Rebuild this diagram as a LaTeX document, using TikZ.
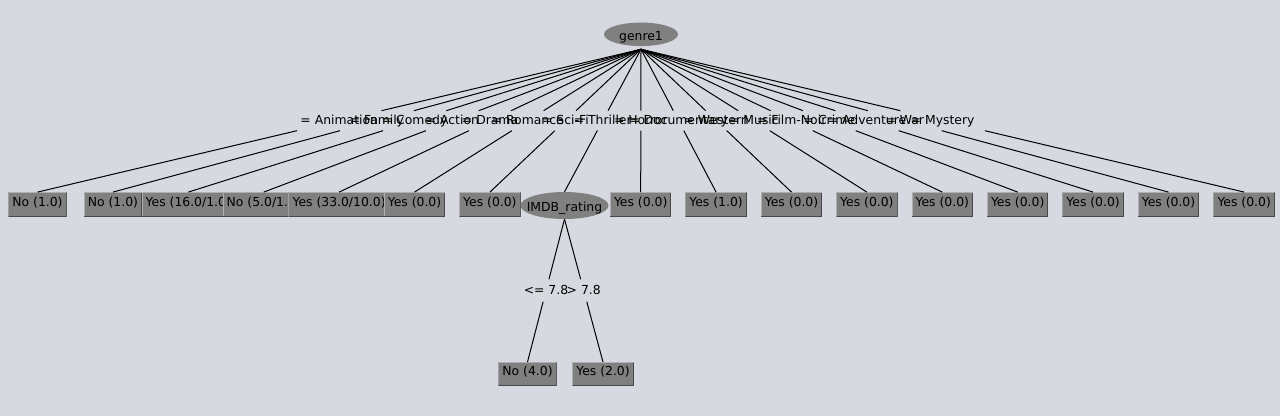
\documentclass[tikz,border=0pt]{standalone}
\usepackage{fontspec}
\setmainfont{DejaVu Sans}
\usetikzlibrary{calc,shapes.geometric}
\definecolor{bg}{RGB}{214,217,223}
\definecolor{nodegray}{RGB}{128,128,128}
\definecolor{boxlight}{RGB}{176,176,176}
\definecolor{boxdark}{RGB}{72,72,72}
\begin{document}
\begin{tikzpicture}[x=1pt,y=-1pt,
  every node/.style={font=\fontsize{12.4pt}{14pt}\selectfont},
  leafbox/.style={fill=nodegray, inner xsep=4.1pt, inner ysep=0pt,
    minimum height=24.4pt, text height=9pt, text depth=6pt,
    path picture={
      \draw[boxlight,line width=1pt]
        ([xshift=0.5pt,yshift=0.5pt]path picture bounding box.south west) |-
        ([xshift=-0.5pt,yshift=-0.5pt]path picture bounding box.north east);
      \draw[boxdark,line width=1pt]
        ([xshift=0.5pt,yshift=0.5pt]path picture bounding box.south west) -|
        ([xshift=-0.5pt,yshift=-0.5pt]path picture bounding box.north east);
    }},
  ellnode/.style={ellipse, fill=nodegray, inner sep=0pt},
  edge/.style={draw=black, line width=1pt},
  elabel/.style={inner sep=0pt, text height=9pt, text depth=0pt, yshift=1pt}
]
\fill[bg] (0,0) rectangle (1280,416);
\useasboundingbox (0,0) rectangle (1280,416);

% root
\node[ellnode, minimum width=74pt, minimum height=23.5pt] (root) at (641,34.3)
  {\smash{\raisebox{-6.6pt}{\makebox[0pt]{genre1}}}};
\coordinate (rootbot) at ($(root.south)+(0,3)$);

% first level
\node[leafbox] (c0) at (37.5,204.5) {No (1.0)};
\node[leafbox] (c1) at (112.9,204.5) {No (1.0)};
\node[leafbox] (c2) at (188.3,204.5) {Yes (16.0/1.0)};
\node[leafbox] (c3) at (263.7,204.5) {No (5.0/1.0)};
\node[leafbox] (c4) at (339.1,204.5) {Yes (33.0/10.0)};
\node[leafbox] (c5) at (414.5,204.5) {Yes (0.0)};
\node[leafbox] (c6) at (489.9,204.5) {Yes (0.0)};
\node[ellnode, minimum width=88pt, minimum height=27pt] (c7) at (564.5,205.5)
  {\smash{\raisebox{-6.1pt}{\makebox[0pt]{IMDB\_rating}}}};
\node[leafbox] (c8) at (640.7,204.5) {Yes (0.0)};
\node[leafbox] (c9) at (716.1,204.5) {Yes (1.0)};
\node[leafbox] (c10) at (791.5,204.5) {Yes (0.0)};
\node[leafbox] (c11) at (866.9,204.5) {Yes (0.0)};
\node[leafbox] (c12) at (942.3,204.5) {Yes (0.0)};
\node[leafbox] (c13) at (1017.7,204.5) {Yes (0.0)};
\node[leafbox] (c14) at (1093.1,204.5) {Yes (0.0)};
\node[leafbox] (c15) at (1168.5,204.5) {Yes (0.0)};
\node[leafbox] (c16) at (1244.2,204.5) {Yes (0.0)};

% second level
\node[leafbox, minimum height=23.6pt] (d0) at (527.5,374) {No (4.0)};
\node[leafbox, minimum height=23.6pt] (d1) at (603,374) {Yes (2.0)};

% root edges with labels
\foreach \n/\l in {c0/Animation, c1/Family, c2/Comedy, c3/Action, c4/Drama,
  c5/Romance, c6/Sci-Fi, c7/Thriller, c8/Horror, c9/Documentary, c10/Western,
  c11/Music, c12/Film-Noir, c13/Crime, c14/Adventure, c15/War, c16/Mystery} {
  \draw[edge] (rootbot) -- ($(rootbot)!0.43!(\n.north)$);
  \draw[edge] ($(rootbot)!0.57!(\n.north)$) -- (\n.north);
  \node[elabel] at ($(rootbot)!0.5!(\n.north)$) {= \l};
}

% IMDB edges
\draw[edge] (c7.south) -- ($(c7.south)!0.42!(d0.north)$);
\draw[edge] ($(c7.south)!0.578!(d0.north)$) -- (d0.north);
\node[elabel] (l0) at ($(c7.south)!0.5!(d0.north)$) {<= 7.8};
\draw[edge] (c7.south) -- ($(c7.south)!0.42!(d1.north)$);
\draw[edge] ($(c7.south)!0.578!(d1.north)$) -- (d1.north);
\node[elabel] (l1) at ($(c7.south)!0.5!(d1.north)$) {> 7.8};
\end{tikzpicture}
\end{document}
